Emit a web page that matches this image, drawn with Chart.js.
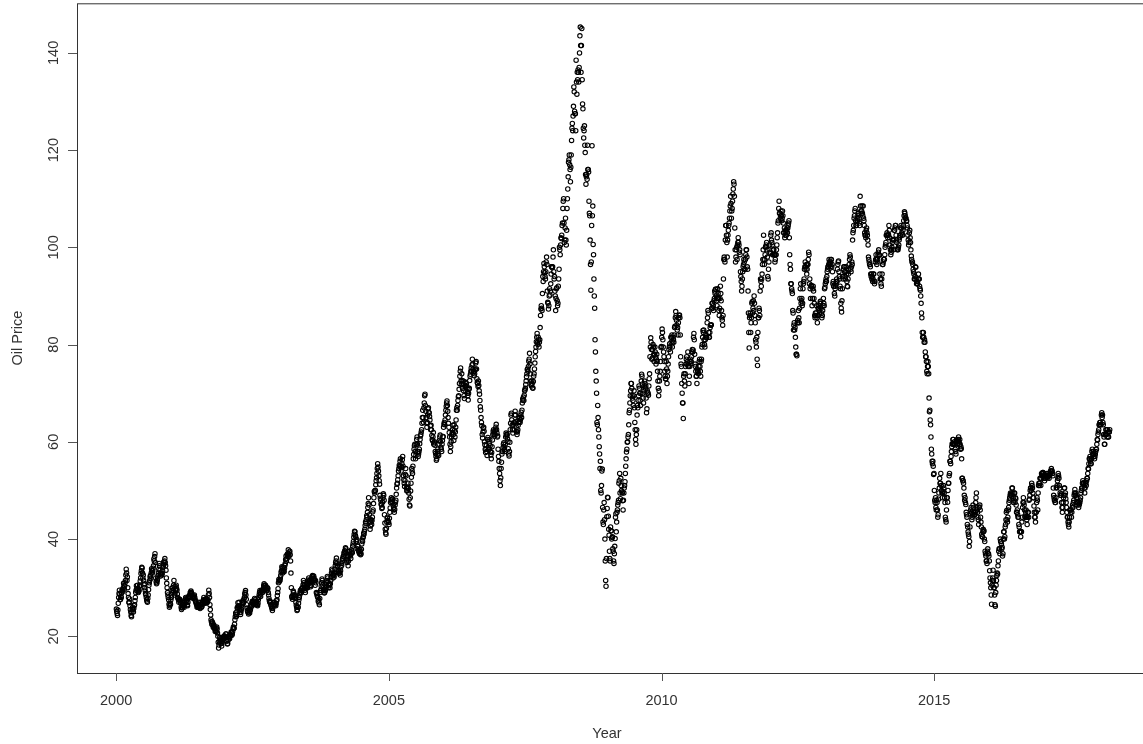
<!DOCTYPE html>
<html>
<head>
<meta charset="utf-8">
<title>Oil Price</title>
<script src="https://cdn.jsdelivr.net/npm/chart.js@4.4.1/dist/chart.umd.min.js"></script>
<style>
  html, body { margin: 0; padding: 0; background: #fff; overflow: hidden; }
  #wrap { width: 1143px; height: 744px; overflow: hidden; position: relative; }
  canvas { display: block; }
</style>
</head>
<body>
<div id="wrap"><canvas id="chart" width="1160" height="744"></canvas></div>
<script>
// Crude oil spot price (USD per barrel), 12 readings per month, one array per year.
const years = [2000, 2001, 2002, 2003, 2004, 2005, 2006, 2007, 2008, 2009,
               2010, 2011, 2012, 2013, 2014, 2015, 2016, 2017, 2018];
const samplesPerYear = 144;

const p2000 = [
  25.6, 25.1, 24.7, 24.3, 25.4, 26.8, 28.0, 28.8, 29.5, 28.6, 27.5, 27.6,
  28.2, 28.0, 28.9, 29.6, 29.5, 29.2, 29.9, 30.9, 30.4, 29.7, 30.4, 31.0,
  31.5, 32.6, 33.8, 33.0, 31.5, 32.2, 30.0, 28.8, 28.0, 27.0, 26.9, 27.7,
  26.3, 25.5, 25.0, 24.3, 24.0, 24.9, 25.5, 26.0, 25.5, 25.0, 25.7, 26.3,
  26.5, 27.3, 28.0, 29.0, 29.5, 30.4, 29.8, 29.3, 30.5, 29.7, 29.0, 29.2,
  29.5, 30.3, 30.5, 31.4, 32.0, 32.9, 33.5, 34.2, 34.0, 33.0, 32.0, 32.6,
  31.5, 30.6, 30.0, 30.8, 29.5, 28.8, 28.5, 28.0, 27.5, 27.2, 27.0, 27.8,
  28.5, 29.6, 30.5, 31.0, 31.5, 32.2, 32.5, 31.9, 33.0, 33.9, 33.5, 33.0,
  33.5, 34.0, 34.5, 35.9, 35.5, 36.4, 37.0, 35.2, 32.0, 31.2, 30.8, 31.0,
  31.5, 32.0, 32.5, 33.0, 33.8, 35.0, 34.5, 33.6, 33.0, 32.4, 33.0, 32.7,
  32.6, 32.9, 33.5, 34.2, 34.5, 35.3, 34.8, 35.5, 36.0, 35.2, 34.5, 33.6,
  32.0, 30.9, 30.0, 29.0, 28.5, 28.0, 27.5, 26.6, 26.0, 26.3, 26.8, 26.6
];
const p2001 = [
  27.5, 28.0, 28.5, 29.4, 30.0, 29.0, 29.5, 30.5, 31.5, 30.2, 28.5, 28.9,
  29.5, 30.2, 30.5, 29.8, 29.5, 28.7, 28.0, 27.8, 27.5, 27.0, 27.4, 27.6,
  27.5, 27.2, 26.8, 26.0, 25.5, 25.8, 26.0, 26.6, 27.0, 26.5, 26.3, 26.0,
  26.3, 27.0, 27.5, 28.0, 27.8, 27.4, 27.0, 26.5, 26.3, 27.0, 27.8, 28.2,
  28.3, 28.0, 28.5, 29.0, 28.8, 29.3, 29.0, 28.7, 28.5, 28.2, 28.0, 27.8,
  28.0, 28.3, 28.5, 28.0, 27.5, 27.2, 27.0, 26.7, 26.5, 26.0, 26.3, 26.1,
  26.0, 26.5, 27.0, 26.4, 26.0, 25.7, 26.5, 26.9, 26.5, 26.0, 26.2, 26.6,
  27.0, 27.3, 27.5, 28.0, 27.5, 27.2, 27.0, 26.8, 27.5, 27.8, 27.2, 26.9,
  27.0, 27.3, 27.5, 28.5, 29.5, 28.8, 28.0, 26.5, 25.5, 24.4, 23.4, 23.0,
  22.5, 23.0, 22.8, 22.2, 21.8, 22.4, 22.0, 21.7, 21.5, 21.0, 21.2, 21.6,
  21.0, 21.9, 21.5, 20.7, 20.0, 18.8, 17.6, 18.2, 19.0, 19.8, 19.5, 19.2,
  19.0, 18.5, 18.0, 18.6, 19.0, 19.6, 19.5, 19.9, 19.5, 20.1, 19.8, 19.9
];
const p2002 = [
  19.8, 20.5, 20.5, 19.7, 19.0, 18.4, 18.5, 19.2, 19.8, 20.0, 19.7, 19.5,
  20.3, 20.1, 20.3, 20.9, 20.8, 20.2, 20.5, 21.0, 21.5, 21.9, 21.6, 21.7,
  22.5, 23.4, 24.0, 24.8, 24.5, 24.1, 25.0, 25.8, 26.0, 26.9, 26.3, 26.0,
  27.0, 26.2, 25.5, 24.9, 24.5, 25.0, 25.5, 26.0, 26.5, 27.0, 27.3, 26.8,
  27.0, 27.6, 28.0, 28.7, 29.0, 29.4, 28.5, 27.6, 26.5, 25.8, 25.3, 25.0,
  25.0, 24.6, 25.5, 25.0, 24.8, 25.3, 25.5, 26.0, 26.5, 26.2, 26.9, 27.2,
  27.0, 26.7, 26.5, 27.0, 27.2, 27.8, 27.5, 26.8, 26.5, 26.7, 27.0, 27.1,
  26.5, 26.3, 26.8, 27.5, 28.0, 28.5, 29.0, 29.4, 28.5, 28.2, 28.9, 29.3,
  29.5, 29.3, 29.0, 29.4, 29.8, 30.4, 30.8, 30.5, 30.0, 29.7, 30.5, 30.2,
  29.8, 29.5, 29.5, 30.0, 29.8, 29.0, 28.5, 27.8, 27.3, 27.0, 27.2, 26.9,
  26.5, 26.3, 26.0, 25.7, 25.3, 25.8, 26.5, 26.9, 27.0, 26.6, 26.9, 26.5,
  26.5, 26.3, 26.8, 27.3, 27.5, 28.4, 29.0, 29.8, 31.0, 31.7, 31.2, 31.5
];
const p2003 = [
  31.5, 32.0, 32.5, 33.2, 33.5, 34.3, 34.0, 33.0, 33.5, 34.2, 33.5, 33.3,
  34.0, 34.6, 35.0, 35.8, 36.5, 35.5, 36.0, 36.8, 37.0, 36.4, 37.8, 37.0,
  36.5, 37.3, 37.5, 36.8, 35.5, 33.0, 30.0, 28.2, 28.0, 27.6, 28.5, 29.3,
  29.0, 28.4, 28.0, 28.3, 28.5, 27.8, 27.0, 26.4, 26.0, 25.3, 25.5, 26.0,
  26.0, 26.8, 27.5, 28.0, 28.5, 29.0, 29.5, 28.9, 29.0, 29.8, 29.5, 30.0,
  30.0, 30.6, 31.5, 31.0, 30.5, 30.0, 29.5, 29.0, 30.0, 30.6, 30.2, 30.0,
  30.5, 30.0, 31.0, 31.6, 32.0, 31.2, 31.5, 30.9, 30.5, 30.2, 30.5, 31.2,
  32.0, 32.3, 32.5, 31.8, 31.5, 32.4, 32.0, 31.6, 31.5, 30.5, 31.5, 31.0,
  29.0, 28.8, 28.5, 28.2, 28.0, 27.2, 27.5, 26.9, 26.5, 27.8, 29.0, 29.4,
  29.5, 30.3, 31.0, 31.8, 31.5, 30.5, 30.0, 29.6, 29.5, 28.9, 29.0, 29.3,
  29.5, 30.0, 30.5, 31.0, 31.5, 32.3, 32.0, 31.2, 30.5, 30.0, 30.4, 30.7,
  30.0, 30.8, 31.5, 32.2, 33.0, 33.8, 33.5, 32.6, 32.0, 32.8, 32.5, 32.2
];
const p2004 = [
  33.0, 33.8, 34.5, 35.2, 35.5, 36.1, 35.0, 34.4, 34.5, 33.6, 33.0, 33.4,
  33.5, 33.0, 33.0, 32.6, 33.5, 34.3, 35.0, 34.6, 35.5, 35.9, 36.0, 36.4,
  36.5, 37.2, 37.0, 37.6, 37.5, 38.2, 38.0, 37.2, 35.5, 35.2, 35.8, 36.4,
  34.5, 35.5, 36.5, 37.4, 37.5, 36.8, 36.5, 36.0, 37.0, 37.8, 37.5, 37.2,
  38.5, 39.0, 39.5, 40.4, 41.0, 41.6, 41.5, 40.8, 40.5, 39.6, 39.5, 39.9,
  38.0, 38.6, 38.5, 37.7, 37.5, 37.3, 37.0, 37.8, 37.5, 36.8, 37.0, 37.9,
  39.0, 39.8, 39.5, 40.2, 40.5, 41.2, 41.0, 41.6, 42.0, 42.8, 43.5, 43.2,
  44.0, 44.8, 44.5, 45.5, 46.5, 47.3, 48.5, 47.0, 45.0, 43.5, 42.0, 42.7,
  43.5, 44.0, 43.0, 43.8, 44.5, 45.6, 46.0, 47.3, 48.5, 49.8, 49.5, 50.0,
  50.0, 51.2, 52.0, 52.6, 53.5, 54.5, 55.5, 54.8, 54.0, 53.0, 52.0, 51.3,
  49.0, 48.4, 48.0, 47.2, 47.0, 46.3, 46.5, 47.6, 48.5, 49.3, 49.0, 48.0,
  45.0, 43.3, 42.0, 41.3, 41.0, 42.2, 43.5, 44.3, 44.5, 43.8, 43.5, 43.4
];
const p2005 = [
  43.0, 44.3, 45.5, 46.4, 47.5, 48.1, 48.5, 47.8, 47.5, 48.3, 48.2, 47.0,
  46.5, 46.0, 45.5, 46.1, 47.0, 47.6, 48.0, 49.2, 50.5, 51.3, 51.5, 52.2,
  53.0, 54.0, 54.5, 55.2, 55.0, 56.0, 56.5, 55.0, 54.0, 54.7, 55.5, 56.3,
  57.0, 55.0, 53.0, 52.2, 51.5, 50.8, 52.0, 53.3, 54.5, 53.0, 50.5, 49.9,
  50.0, 50.7, 51.5, 50.4, 49.5, 48.2, 47.0, 46.8, 48.5, 49.9, 51.5, 52.7,
  54.5, 54.0, 53.5, 55.0, 56.5, 57.4, 58.5, 59.2, 59.5, 58.0, 56.5, 57.2,
  59.5, 60.5, 61.0, 59.5, 58.0, 57.0, 57.5, 58.0, 58.5, 59.6, 60.5, 61.2,
  61.5, 62.0, 62.5, 63.8, 65.0, 66.5, 65.0, 64.0, 67.0, 68.0, 69.5, 69.8,
  67.5, 66.3, 65.0, 63.8, 63.0, 64.0, 65.5, 66.8, 67.0, 66.0, 66.0, 65.2,
  64.5, 63.3, 62.5, 63.4, 62.5, 61.3, 60.5, 60.2, 61.0, 61.9, 59.5, 59.8,
  60.0, 59.3, 58.0, 57.6, 57.0, 56.2, 56.5, 57.3, 58.0, 58.5, 57.5, 57.2,
  59.5, 60.3, 61.0, 61.4, 60.0, 58.9, 58.5, 58.0, 59.5, 60.3, 61.0, 61.1
];
const p2006 = [
  63.0, 63.6, 64.0, 63.5, 64.5, 65.5, 66.5, 67.3, 68.0, 68.4, 67.5, 66.3,
  65.0, 63.8, 63.0, 61.9, 61.0, 59.5, 58.0, 59.0, 60.0, 61.0, 61.5, 61.9,
  62.5, 63.4, 61.5, 60.3, 63.5, 62.4, 61.0, 62.0, 63.0, 64.5, 66.5, 67.0,
  66.5, 67.5, 68.5, 69.3, 69.5, 70.8, 72.0, 73.5, 74.5, 75.2, 72.5, 71.8,
  74.0, 72.6, 71.0, 72.0, 72.5, 70.5, 69.5, 68.9, 71.5, 72.3, 71.5, 70.3,
  72.0, 71.5, 71.0, 70.0, 69.5, 68.6, 70.0, 70.8, 71.0, 72.6, 73.5, 73.9,
  74.5, 75.2, 74.5, 75.8, 77.0, 76.0, 75.0, 74.2, 74.5, 73.6, 74.0, 74.8,
  75.0, 76.2, 76.5, 75.0, 73.0, 72.2, 72.0, 71.4, 72.5, 71.6, 70.5, 69.8,
  68.5, 67.2, 66.5, 65.0, 64.0, 63.3, 61.5, 60.8, 62.0, 62.8, 63.0, 62.2,
  60.0, 59.4, 58.5, 57.8, 58.5, 59.3, 58.0, 57.2, 60.5, 60.9, 58.5, 58.9,
  58.5, 59.6, 60.5, 59.2, 58.0, 57.3, 56.5, 57.8, 59.0, 60.4, 61.5, 62.2,
  62.5, 61.6, 62.0, 61.2, 61.5, 62.4, 63.0, 63.6, 62.5, 61.8, 61.0, 61.2
];
const p2007 = [
  58.5, 57.0, 56.0, 54.5, 53.5, 52.0, 51.0, 52.6, 54.5, 55.8, 57.5, 58.0,
  58.0, 58.8, 59.5, 59.8, 59.0, 58.4, 58.0, 59.5, 61.0, 61.8, 61.5, 61.2,
  61.5, 60.6, 60.0, 58.6, 57.5, 57.1, 58.0, 59.9, 62.5, 63.8, 65.5, 65.9,
  64.5, 63.4, 62.5, 61.8, 63.5, 63.9, 62.5, 64.0, 65.5, 66.3, 65.5, 64.2,
  63.0, 62.0, 61.5, 62.1, 62.5, 63.4, 64.0, 64.8, 65.0, 64.2, 64.0, 64.6,
  65.5, 66.1, 65.0, 66.5, 68.0, 68.8, 68.5, 69.2, 68.5, 69.6, 70.5, 70.7,
  71.0, 71.8, 72.5, 73.4, 74.0, 74.9, 75.0, 74.5, 75.5, 76.6, 77.0, 78.2,
  76.0, 74.0, 72.5, 71.8, 71.5, 72.5, 72.0, 71.1, 71.0, 72.4, 73.5, 74.0,
  75.0, 76.2, 77.5, 78.6, 79.5, 80.6, 81.5, 82.3, 80.5, 80.0, 81.5, 81.0,
  79.5, 80.5, 81.0, 83.5, 86.0, 87.3, 88.0, 87.5, 87.0, 90.5, 94.0, 93.0,
  95.0, 96.7, 96.0, 94.8, 94.0, 93.5, 95.0, 97.0, 98.0, 96.5, 91.0, 88.7,
  88.5, 87.3, 88.0, 90.0, 91.5, 90.2, 91.0, 92.5, 94.5, 96.0, 96.0, 95.8
];
const p2008 = [
  96.0, 98.0, 99.5, 95.0, 93.5, 94.0, 91.0, 90.0, 87.0, 89.5, 91.5, 91.7,
  89.0, 88.0, 88.5, 92.0, 93.5, 95.5, 100.0, 99.5, 98.5, 100.5, 102.0, 101.8,
  102.5, 104.5, 105.0, 108.0, 109.5, 110.0, 105.0, 101.0, 101.5, 104.0, 106.0, 101.5,
  100.5, 103.5, 108.0, 110.0, 112.0, 114.5, 117.5, 118.0, 119.0, 117.0, 116.0, 113.5,
  116.5, 119.0, 122.0, 124.5, 125.5, 124.0, 127.0, 129.0, 133.0, 132.0, 128.0, 127.5,
  127.5, 124.0, 138.5, 134.0, 131.5, 136.0, 134.5, 136.5, 136.0, 134.0, 137.0, 140.0,
  143.5, 145.3, 141.5, 136.0, 141.5, 145.0, 134.5, 129.5, 128.5, 124.5, 122.5, 124.0,
  125.0, 121.0, 119.5, 115.0, 113.0, 114.5, 115.0, 114.0, 121.0, 116.0, 116.0, 115.5,
  109.5, 107.0, 106.5, 101.5, 96.5, 91.2, 97.0, 104.5, 120.9, 106.5, 108.5, 100.6,
  98.5, 93.5, 90.0, 87.5, 81.0, 78.5, 74.5, 72.5, 70.0, 64.0, 63.5, 67.5,
  65.0, 62.5, 61.0, 59.0, 57.5, 54.5, 56.0, 50.0, 49.5, 51.0, 54.0, 54.4,
  46.5, 43.5, 43.0, 46.0, 47.5, 44.0, 40.0, 35.5, 31.5, 30.3, 36.0, 44.6
];
const p2009 = [
  46.3, 48.6, 48.5, 44.7, 42.0, 40.8, 37.5, 36.0, 35.5, 42.5, 41.7, 41.7,
  40.0, 40.3, 40.5, 38.0, 37.5, 35.5, 35.0, 37.0, 38.5, 40.1, 44.5, 45.2,
  41.5, 43.5, 45.5, 46.0, 47.0, 47.5, 48.0, 51.5, 52.0, 53.5, 49.5, 48.3,
  52.5, 51.0, 50.0, 49.7, 49.5, 47.9, 46.0, 48.0, 49.5, 50.5, 51.0, 51.8,
  53.5, 55.0, 56.5, 57.9, 58.5, 59.9, 60.0, 61.0, 61.5, 63.5, 66.0, 66.5,
  68.0, 69.5, 70.5, 72.0, 72.0, 71.0, 69.5, 69.0, 68.5, 67.5, 69.5, 70.5,
  67.0, 64.0, 62.5, 60.5, 59.5, 61.5, 62.5, 65.5, 67.5, 67.0, 68.5, 69.5,
  71.5, 71.0, 70.0, 68.5, 67.5, 70.0, 72.5, 73.9, 73.5, 71.9, 70.0, 69.0,
  68.0, 70.5, 71.5, 72.5, 72.0, 71.0, 71.5, 69.0, 66.0, 66.8, 70.5, 70.1,
  70.0, 69.6, 71.5, 73.0, 74.0, 77.5, 79.5, 81.4, 80.5, 79.0, 77.0, 77.2,
  79.0, 80.0, 79.5, 78.0, 76.5, 78.0, 79.5, 78.5, 77.5, 76.0, 77.0, 78.0,
  76.5, 74.5, 72.5, 71.0, 69.5, 70.5, 72.5, 73.5, 74.5, 76.5, 79.4, 79.6
];
const p2010 = [
  81.5, 83.2, 82.5, 81.0, 79.5, 78.5, 77.5, 76.5, 74.5, 73.5, 73.0, 72.9,
  76.5, 75.0, 72.0, 73.5, 74.5, 76.0, 77.5, 79.0, 79.5, 80.2, 79.5, 78.5,
  81.5, 80.5, 81.5, 82.0, 79.5, 80.5, 81.5, 81.0, 80.5, 82.0, 83.5, 83.8,
  85.5, 86.8, 86.0, 85.0, 84.0, 83.0, 83.5, 82.0, 84.5, 85.5, 86.0, 86.1,
  85.5, 82.0, 77.5, 76.0, 75.5, 72.0, 70.0, 68.0, 68.0, 64.8, 73.5, 74.0,
  72.5, 71.5, 74.0, 75.5, 76.0, 77.0, 77.5, 76.0, 76.5, 78.5, 75.5, 75.6,
  72.0, 73.5, 75.5, 76.5, 77.0, 76.0, 76.5, 77.5, 78.5, 79.0, 78.5, 78.9,
  81.5, 82.3, 81.0, 78.0, 76.0, 75.5, 74.5, 73.5, 73.5, 72.0, 75.0, 74.5,
  74.5, 74.0, 75.5, 76.5, 77.0, 75.5, 74.5, 73.5, 76.5, 77.0, 79.5, 80.0,
  81.5, 82.9, 82.5, 83.0, 81.0, 80.0, 79.5, 81.0, 82.0, 81.5, 81.5, 81.4,
  84.5, 85.5, 87.0, 86.5, 82.5, 81.5, 81.5, 82.5, 83.5, 84.0, 84.0, 84.1,
  87.5, 88.5, 88.5, 87.5, 88.0, 87.0, 89.0, 89.5, 91.0, 90.5, 91.4, 91.4
];
const p2011 = [
  90.0, 89.0, 88.0, 89.5, 91.5, 90.5, 89.5, 87.0, 86.0, 87.5, 89.5, 92.0,
  90.5, 89.0, 87.0, 85.5, 85.0, 84.0, 86.0, 93.5, 97.5, 98.0, 97.5, 97.0,
  101.5, 104.5, 104.5, 102.5, 101.0, 98.0, 101.5, 102.5, 103.5, 104.5, 105.0, 106.0,
  107.5, 108.5, 110.5, 109.0, 106.0, 107.5, 108.0, 109.5, 111.0, 112.0, 113.5, 113.0,
  110.5, 104.0, 99.5, 97.0, 98.0, 99.5, 100.0, 97.5, 100.5, 101.0, 102.0, 101.0,
  100.5, 99.0, 99.5, 98.5, 95.0, 94.0, 93.0, 91.0, 92.0, 93.5, 95.0, 96.0,
  96.5, 97.5, 97.0, 95.5, 95.5, 97.5, 98.5, 99.5, 99.5, 98.0, 96.0, 95.5,
  91.0, 86.5, 82.5, 79.3, 85.5, 86.0, 86.5, 82.5, 84.5, 85.5, 88.5, 88.8,
  86.5, 87.5, 89.0, 87.0, 90.0, 88.5, 86.0, 84.5, 81.0, 80.5, 79.5, 81.5,
  77.0, 75.7, 82.5, 85.5, 85.5, 87.5, 87.0, 86.0, 91.0, 93.5, 93.0, 92.0,
  93.5, 94.5, 96.5, 97.5, 99.5, 102.5, 97.5, 96.5, 97.5, 98.5, 100.0, 100.2,
  100.5, 101.0, 99.5, 98.0, 94.0, 93.5, 95.5, 97.0, 99.5, 100.5, 98.8, 99.0
];
const p2012 = [
  102.5, 103.0, 101.5, 101.0, 100.5, 98.5, 98.5, 99.5, 99.5, 98.5, 98.5, 97.0,
  97.5, 98.5, 98.5, 99.5, 100.5, 102.0, 103.0, 105.0, 105.5, 108.0, 109.5, 107.0,
  107.0, 106.0, 106.5, 107.5, 106.5, 105.5, 106.0, 107.5, 106.5, 105.0, 103.0, 103.0,
  104.0, 102.0, 102.5, 103.5, 103.0, 102.5, 103.5, 104.0, 103.0, 104.0, 104.5, 105.0,
  105.5, 102.0, 98.5, 96.5, 95.5, 92.5, 92.5, 91.5, 91.0, 90.5, 87.0, 86.5,
  83.0, 84.0, 84.5, 83.0, 83.5, 81.5, 79.5, 78.0, 78.0, 77.7, 84.5, 85.0,
  84.5, 87.0, 85.5, 84.5, 87.5, 89.5, 91.5, 92.5, 88.5, 89.0, 89.5, 88.0,
  88.5, 91.5, 92.5, 93.0, 93.5, 95.5, 96.0, 97.0, 96.0, 95.5, 96.5, 94.5,
  95.5, 96.5, 96.5, 97.5, 99.0, 98.5, 92.5, 93.5, 91.5, 89.5, 92.0, 92.2,
  92.0, 88.0, 89.5, 91.5, 92.0, 91.0, 89.5, 88.5, 86.0, 85.5, 86.5, 86.0,
  86.5, 88.0, 85.5, 84.5, 86.0, 87.5, 87.5, 88.0, 87.0, 86.5, 88.5, 88.9,
  88.5, 87.5, 86.5, 85.5, 86.0, 87.0, 88.0, 89.5, 88.5, 88.0, 91.5, 91.8
];
const p2013 = [
  92.5, 93.0, 93.5, 93.0, 94.0, 95.0, 95.5, 96.0, 96.0, 96.5, 97.5, 97.0,
  96.5, 96.0, 97.0, 97.5, 97.5, 96.0, 96.5, 95.0, 92.5, 93.0, 92.0, 92.0,
  90.5, 90.0, 91.5, 92.0, 92.5, 93.0, 93.5, 93.0, 95.5, 96.5, 97.0, 97.2,
  95.0, 94.0, 93.5, 92.0, 91.5, 88.5, 87.5, 86.7, 89.0, 91.5, 94.0, 93.5,
  95.5, 96.0, 96.0, 95.0, 94.0, 93.5, 95.0, 96.0, 94.5, 93.0, 92.0, 91.9,
  93.5, 94.5, 95.5, 96.5, 97.5, 98.5, 98.0, 95.5, 95.0, 96.0, 97.0, 96.5,
  101.5, 103.0, 103.5, 104.5, 106.0, 106.5, 107.5, 108.0, 105.5, 104.5, 104.5, 105.0,
  106.0, 105.5, 106.5, 107.0, 107.0, 106.0, 105.0, 104.5, 110.5, 108.5, 107.5, 107.0,
  107.5, 108.5, 107.0, 106.5, 108.5, 106.0, 105.5, 104.5, 103.0, 102.5, 102.5, 102.0,
  103.5, 104.0, 103.0, 102.5, 101.5, 100.5, 98.0, 97.5, 97.0, 96.5, 96.5, 96.0,
  94.5, 94.0, 94.5, 93.5, 94.0, 93.0, 93.5, 94.5, 94.5, 93.0, 92.5, 93.0,
  97.0, 97.5, 98.5, 97.5, 96.5, 97.0, 97.5, 98.5, 99.0, 99.5, 98.5, 98.4
];
const p2014 = [
  94.5, 93.5, 93.5, 92.5, 92.0, 93.5, 94.5, 96.5, 96.5, 97.0, 97.5, 97.5,
  97.5, 98.5, 100.0, 100.5, 101.0, 102.5, 102.5, 103.0, 102.5, 102.0, 102.5, 102.6,
  104.5, 103.5, 102.0, 100.5, 99.5, 98.5, 99.0, 99.5, 100.0, 101.0, 101.5, 101.6,
  99.5, 101.5, 103.5, 103.5, 104.0, 104.5, 104.5, 102.5, 101.5, 101.0, 99.5, 99.7,
  99.5, 100.0, 100.5, 101.5, 102.0, 102.5, 102.5, 104.0, 104.5, 104.0, 103.0, 102.7,
  102.5, 103.5, 104.5, 105.5, 106.5, 107.3, 107.0, 106.5, 106.0, 106.0, 105.5, 105.4,
  104.5, 104.0, 102.5, 101.5, 100.5, 101.0, 103.0, 103.5, 102.0, 101.0, 99.5, 98.2,
  97.5, 97.0, 97.0, 96.5, 95.5, 95.0, 94.5, 93.5, 93.5, 94.0, 96.0, 95.9,
  93.5, 92.5, 93.0, 92.5, 92.5, 93.5, 94.5, 93.5, 93.5, 92.0, 91.5, 91.2,
  90.0, 88.5, 86.5, 85.5, 82.5, 81.5, 81.5, 82.5, 81.5, 80.5, 81.0, 80.5,
  78.5, 77.5, 77.5, 76.5, 74.5, 74.0, 75.5, 76.5, 75.5, 74.0, 69.0, 66.2,
  66.5, 64.5, 63.5, 61.0, 58.5, 57.5, 56.0, 55.5, 56.0, 55.0, 53.3, 53.5
];
const p2015 = [
  50.0, 48.0, 47.5, 48.5, 46.5, 46.0, 48.0, 47.5, 46.0, 44.5, 45.0, 48.2,
  49.5, 50.5, 52.5, 51.5, 51.5, 53.5, 51.0, 50.0, 49.5, 48.5, 49.5, 49.8,
  51.0, 50.5, 49.5, 48.5, 47.5, 44.5, 44.0, 43.5, 46.0, 48.5, 48.5, 47.6,
  50.0, 51.5, 51.5, 53.0, 53.5, 56.0, 56.0, 55.5, 57.0, 58.0, 59.0, 59.6,
  59.5, 60.5, 60.5, 59.5, 59.5, 60.0, 59.5, 58.5, 58.0, 57.5, 60.0, 60.3,
  60.5, 59.5, 60.0, 60.5, 61.0, 60.0, 59.5, 60.5, 59.5, 58.5, 59.0, 58.6,
  56.5, 52.5, 52.5, 52.0, 52.0, 51.5, 50.5, 49.0, 48.0, 48.5, 47.5, 47.1,
  45.5, 45.0, 44.5, 43.0, 42.5, 41.5, 41.0, 40.5, 38.5, 39.5, 42.5, 45.2,
  46.0, 46.5, 45.5, 44.0, 44.5, 45.0, 47.0, 46.5, 45.5, 45.0, 45.0, 45.1,
  45.5, 47.5, 48.5, 49.5, 46.5, 46.0, 45.5, 44.5, 44.0, 43.0, 46.5, 46.6,
  47.0, 46.0, 44.5, 43.5, 42.5, 41.0, 40.5, 40.5, 41.5, 42.0, 41.5, 41.7,
  40.0, 39.5, 37.5, 37.0, 36.5, 35.5, 35.5, 35.0, 37.5, 38.0, 37.0, 37.0
];
const p2016 = [
  36.5, 35.5, 33.5, 32.0, 31.0, 30.0, 28.5, 26.6, 30.5, 31.5, 32.0, 33.6,
  31.5, 30.0, 30.0, 28.5, 26.5, 26.2, 29.0, 30.5, 31.5, 32.5, 33.0, 32.8,
  34.5, 35.5, 37.5, 38.0, 38.0, 37.0, 40.0, 39.5, 39.5, 39.0, 38.0, 38.3,
  36.5, 37.0, 40.0, 41.5, 41.5, 40.0, 40.5, 42.5, 43.0, 44.0, 45.5, 45.9,
  44.0, 43.5, 44.5, 46.0, 46.5, 47.5, 48.0, 48.5, 49.0, 49.5, 49.0, 49.1,
  49.5, 50.5, 50.5, 49.5, 48.5, 47.5, 48.0, 49.5, 49.5, 47.5, 48.5, 48.3,
  47.0, 45.5, 45.5, 46.0, 45.0, 44.5, 44.5, 43.0, 42.5, 41.5, 41.5, 41.6,
  40.5, 41.5, 41.5, 43.5, 44.5, 46.5, 47.5, 48.5, 47.5, 47.0, 46.0, 44.7,
  44.5, 45.5, 46.0, 44.5, 44.0, 43.0, 44.5, 45.5, 45.5, 44.5, 48.0, 48.2,
  49.0, 50.0, 50.5, 50.5, 50.0, 51.5, 51.0, 50.5, 49.5, 48.5, 48.5, 46.8,
  45.5, 44.5, 44.5, 43.5, 45.5, 45.5, 47.5, 48.5, 48.0, 46.0, 49.5, 51.0,
  51.5, 51.0, 51.5, 52.5, 52.5, 51.0, 52.5, 53.5, 53.0, 53.5, 53.7, 53.7
];
const p2017 = [
  52.5, 53.5, 53.0, 52.0, 52.5, 52.5, 52.5, 53.0, 53.0, 53.5, 52.8, 52.6,
  53.5, 53.0, 53.0, 52.5, 53.0, 53.5, 53.5, 54.0, 54.0, 54.5, 54.0, 54.0,
  53.5, 53.0, 50.5, 49.0, 48.5, 48.0, 48.0, 47.5, 47.5, 48.5, 50.5, 50.6,
  51.0, 52.0, 52.5, 53.5, 53.0, 52.5, 51.0, 50.5, 49.5, 49.0, 49.0, 49.3,
  47.5, 46.5, 45.5, 46.5, 47.5, 48.5, 49.0, 50.5, 50.5, 49.0, 49.5, 48.3,
  47.5, 46.5, 45.5, 44.5, 44.5, 43.5, 43.0, 42.5, 43.5, 44.5, 46.0, 46.0,
  45.5, 46.0, 44.5, 45.5, 46.5, 47.0, 46.5, 47.5, 48.0, 49.0, 49.5, 50.2,
  49.0, 49.5, 49.0, 48.5, 47.5, 47.0, 47.5, 48.5, 47.5, 46.5, 47.0, 47.2,
  47.5, 48.0, 48.5, 49.5, 50.0, 50.5, 50.5, 51.5, 52.0, 51.5, 51.5, 51.6,
  50.5, 49.5, 50.5, 51.5, 51.5, 51.0, 52.0, 52.5, 52.5, 53.5, 54.5, 54.4,
  55.5, 56.5, 56.5, 57.0, 56.0, 55.5, 55.5, 56.5, 58.0, 58.5, 57.5, 57.4,
  58.0, 57.5, 57.0, 56.5, 57.0, 57.5, 58.0, 58.5, 58.5, 59.5, 60.5, 60.4
];
const p2018 = [
  61.5, 62.0, 62.5, 63.5, 63.5, 64.0, 64.0, 63.5, 63.5, 65.5, 66.0, 65.0,
  65.5, 64.0, 63.5, 61.5, 61.0, 59.5, 59.5, 61.5, 61.5, 62.5, 62.5, 61.5,
  61.0, 62.5, 62.0, 61.0, 61.0, 62.0, 62.0, 62.5
];
const pricesByYear = [p2000, p2001, p2002, p2003, p2004, p2005, p2006, p2007, p2008, p2009,
                      p2010, p2011, p2012, p2013, p2014, p2015, p2016, p2017, p2018];

const xTickValues = [2000, 2005, 2010, 2015];
const yTickValues = [20, 40, 60, 80, 100, 120, 140];
const xTitle = 'Year';
const yTitle = 'Oil Price';

// Build the (decimal year, price) points
const points = [];
pricesByYear.forEach((arr, k) => {
  arr.forEach((v, i) => points.push({ x: years[k] + (i + 0.5) / samplesPerYear, y: v }));
});

const FONT = '14.5px "Liberation Sans", Arial, Helvetica, sans-serif';

// Box, tick marks, tick labels and axis titles in base-graphics style
const framePlugin = {
  id: 'frame',
  afterDraw(chart) {
    const { ctx, chartArea: a } = chart;
    const xs = chart.scales.x, ys = chart.scales.y;
    ctx.save();
    ctx.lineWidth = 1;
    ctx.strokeStyle = '#333';
    ctx.strokeRect(a.left + 0.5, a.top + 0.5, a.right - a.left, a.bottom - a.top);

    ctx.strokeStyle = '#555';
    ctx.beginPath();
    xTickValues.forEach(v => {
      const px = Math.round(xs.getPixelForValue(v)) + 0.5;
      ctx.moveTo(px, a.bottom);
      ctx.lineTo(px, a.bottom + 8);
    });
    yTickValues.forEach(v => {
      const py = Math.round(ys.getPixelForValue(v)) + 0.5;
      ctx.moveTo(a.left - 9, py);
      ctx.lineTo(a.left, py);
    });
    ctx.stroke();

    ctx.fillStyle = '#333';
    ctx.font = FONT;
    ctx.textAlign = 'center';
    ctx.textBaseline = 'alphabetic';
    xTickValues.forEach(v => {
      ctx.fillText(String(v), xs.getPixelForValue(v), 705);
    });
    yTickValues.forEach(v => {
      ctx.save();
      ctx.translate(57.5, ys.getPixelForValue(v));
      ctx.rotate(-Math.PI / 2);
      ctx.fillText(String(v), 0, 0);
      ctx.restore();
    });

    ctx.fillText(xTitle, 607, 738);
    ctx.save();
    ctx.translate(22, (a.top + a.bottom) / 2);
    ctx.rotate(-Math.PI / 2);
    ctx.fillText(yTitle, 0, 0);
    ctx.restore();
    ctx.restore();
  }
};

new Chart(document.getElementById('chart'), {
  type: 'scatter',
  data: {
    datasets: [{
      data: points,
      pointStyle: 'circle',
      pointRadius: 2.2,
      pointBorderWidth: 1.1,
      pointBorderColor: '#000',
      pointBackgroundColor: 'rgba(0,0,0,0)',
      pointHoverRadius: 2.2
    }]
  },
  options: {
    responsive: false,
    animation: false,
    devicePixelRatio: 1,
    events: [],
    layout: { padding: { top: 3, left: 0, right: 0, bottom: 0 } },
    plugins: { legend: { display: false }, tooltip: { enabled: false } },
    scales: {
      x: {
        type: 'linear',
        min: 1999.2815,
        max: 2019.0805,
        grid: { display: false },
        border: { display: false },
        ticks: { display: false },
        afterBuildTicks: s => { s.ticks = xTickValues.map(v => ({ value: v })); },
        afterFit: s => { s.height = 71; }
      },
      y: {
        type: 'linear',
        min: 12.455,
        max: 150.2,
        grid: { display: false },
        border: { display: false },
        ticks: { display: false },
        afterBuildTicks: s => { s.ticks = yTickValues.map(v => ({ value: v })); },
        afterFit: s => { s.width = 77; }
      }
    }
  },
  plugins: [framePlugin]
});
</script>
</body>
</html>
